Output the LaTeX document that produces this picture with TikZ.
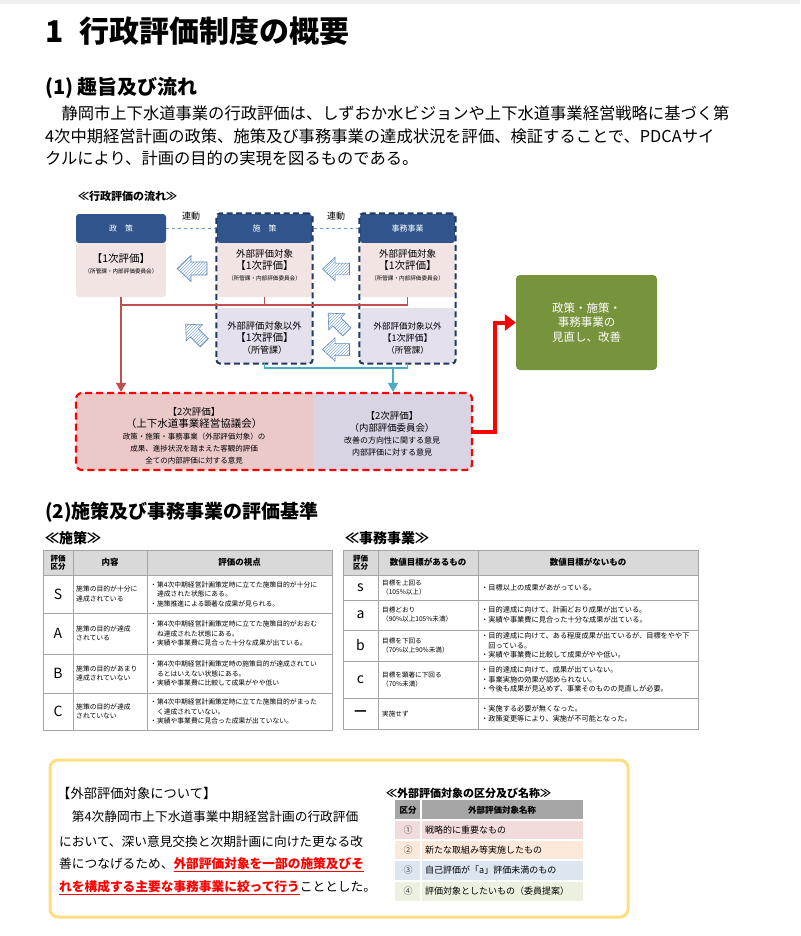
\documentclass[tikz,border=0pt]{standalone}
\usepackage{fontspec}
\setmainfont{Noto Sans CJK JP}
\usetikzlibrary{arrows.meta,patterns,fit,positioning}
\definecolor{hdnavy}{RGB}{47,85,140}
\definecolor{dashnavy}{RGB}{31,56,100}
\definecolor{bodypink}{RGB}{243,228,228}
\definecolor{bodylav}{RGB}{228,224,236}
\definecolor{linkblue}{RGB}{110,155,205}
\definecolor{evalred}{RGB}{192,80,77}
\definecolor{evalcyan}{RGB}{75,172,198}
\definecolor{nijipink}{RGB}{236,201,201}
\definecolor{nijilav}{RGB}{217,211,228}
\definecolor{kaizengreen}{RGB}{119,147,60}
\definecolor{hatchblue}{RGB}{140,175,222}
\definecolor{hatchedge}{RGB}{95,135,190}
\definecolor{thgray}{RGB}{217,217,217}
\definecolor{gridgray}{RGB}{165,165,165}
\definecolor{boxyellow}{RGB}{255,222,130}
\definecolor{kbgray}{RGB}{166,166,166}
\definecolor{kbpink}{RGB}{242,220,219}
\definecolor{kborange}{RGB}{253,233,217}
\definecolor{kbblue}{RGB}{220,230,241}
\definecolor{kbgreen}{RGB}{235,241,222}
\definecolor{topgray}{RGB}{238,238,238}
\newcommand{\jfs}[2]{\fontsize{#1}{#2}\selectfont}
\newcommand{\redul}[1]{{\color{red}\bfseries\underline{#1}}}

\begin{document}
\begin{tikzpicture}[x=1pt, y=-1pt,
  every node/.style={inner sep=0pt},
  hd/.style={fill=hdnavy, rounded corners=3pt, minimum height=29pt, text=white, font=\jfs{8}{10}},
  pinkbody/.style={fill=bodypink, rounded corners=3pt, minimum height=54pt},
  lavbody/.style={fill=bodylav, rounded corners=3pt, minimum height=55pt},
  boxtxt/.style={align=center, font=\jfs{9}{12}},
  colframe/.style={draw=dashnavy, line width=2pt, dash pattern=on 6pt off 3.5pt, rounded corners=4pt, inner sep=0.5pt},
  linkln/.style={linkblue, dashed, line width=0.7pt},
  redln/.style={evalred, line width=1.3pt},
  cyanln/.style={evalcyan, line width=1.3pt},
  bigred/.style={red, line width=4pt, -{Triangle[length=11pt,width=16pt]}},
  grade/.style={font=\jfs{14}{14}},
  cellhd/.style={align=center, font=\jfs{8.5}{10}\bfseries},
  celltx/.style={anchor=west, align=left, font=\jfs{6.8}{9.5}},
  jimutx/.style={anchor=west, align=left, font=\jfs{7.2}{9.5}},
  cellln/.style={gridgray, line width=0.6pt},
  hatcharrow/.pic={
    \fill[white] (-15,0) -- (-1,-13) -- (-1,-6.5) -- (15,-6.5) -- (15,6.5) -- (-1,6.5) -- (-1,13) -- cycle;
    \draw[hatchedge, line width=0.6pt, pattern=north east lines, pattern color=hatchblue]
      (-15,0) -- (-1,-13) -- (-1,-6.5) -- (15,-6.5) -- (15,6.5) -- (-1,6.5) -- (-1,13) -- cycle;
  }
]
\useasboundingbox (0,0) rectangle (800,936);
\fill[white] (0,0) rectangle (800,936);
\fill[topgray] (0,0) rectangle (800,4);

% Heading and lead text
\node[anchor=west, font=\jfs{30}{32}\bfseries] (title) at (45,31) {1\hspace{16pt}行政評価制度の概要};
\node[anchor=west, font=\jfs{20}{22}\bfseries] (sec1) at (45,88) {(1) 趣旨及び流れ};
\node[anchor=west, font=\jfs{16.3}{18}] (lead1) at (45,113) {　静岡市上下水道事業の行政評価は、しずおか水ビジョンや上下水道事業経営戦略に基づく第};
\node[anchor=west, font=\jfs{16.3}{18}] (lead2) at (45,136) {4次中期経営計画の政策、施策及び事務事業の達成状況を評価、検証することで、PDCAサイ};
\node[anchor=west, font=\jfs{16.3}{18}] (lead3) at (45,158) {クルにより、計画の目的の実現を図るものである。};

% Flow of the evaluation
\node[anchor=west, font=\jfs{11}{12}\bfseries] (flowtitle) at (78,196) {≪行政評価の流れ≫};

% column boxes
\node[hd, minimum width=90pt] (seisaku-hd) at (121,228.5) {政\hspace{8pt}策};
\node[pinkbody, minimum width=90pt] (seisaku) at (121,270) {};
\node[boxtxt] (seisaku-t) at (121,264) {\jfs{10.5}{12}【1次評価】\\[-1pt]\jfs{5.6}{8}（所管課・内部評価委員会）};

\node[hd, minimum width=95pt] (shisaku-hd) at (264.5,228.5) {施\hspace{8pt}策};
\node[pinkbody, minimum width=95pt] (shisaku-in) at (264.5,270) {};
\node[boxtxt] (shisaku-in-t) at (264.5,265) {\jfs{9.5}{12}外部評価対象\\\jfs{10.5}{13}【1次評価】\\[-1pt]\jfs{5.6}{8}（所管課・内部評価委員会）};
\node[lavbody, minimum width=95pt] (shisaku-out) at (264.5,335.5) {};
\node[boxtxt] (shisaku-out-t) at (264.5,338) {\jfs{9.3}{12}外部評価対象以外\\\jfs{10.5}{13}【1次評価】\\\jfs{9}{12}（所管課）};

\node[hd, minimum width=95pt] (jimu-hd) at (407.5,228.5) {事務事業};
\node[pinkbody, minimum width=95pt] (jimu-in) at (407.5,270) {};
\node[boxtxt] (jimu-in-t) at (407.5,265) {\jfs{9.5}{12}外部評価対象\\\jfs{10.5}{13}【1次評価】\\[-1pt]\jfs{5.6}{8}（所管課・内部評価委員会）};
\node[lavbody, minimum width=95pt] (jimu-out) at (407.5,335.5) {};
\node[boxtxt] (jimu-out-t) at (407.5,338) {\jfs{8.5}{12}外部評価対象以外\\\jfs{9}{11}【1次評価】\\\jfs{8.5}{11}（所管課）};

\node[colframe, fit=(shisaku-hd)(shisaku-out)] (shisaku-frame) {};
\node[colframe, fit=(jimu-hd)(jimu-out)] (jimu-frame) {};

% linked columns
\draw[linkln] (seisaku-hd.east) -- (shisaku-frame.west |- seisaku-hd.east);
\draw[linkln] (shisaku-frame.east |- jimu-hd.west) -- (jimu-frame.west |- jimu-hd.west);
\node[font=\jfs{9}{10}] (rendo1) at (191,216) {連動};
\node[font=\jfs{9}{10}] (rendo2) at (336,216) {連動};

% hatched arrows
\pic at (192,268.5) {hatcharrow};
\pic[scale=0.9] at (336,269) {hatcharrow};
\pic[scale=0.88, rotate=-45] at (195,333.5) {hatcharrow};
\pic[scale=0.88, rotate=-45] at (337.5,322.5) {hatcharrow};
\pic[scale=0.9] at (336,349.5) {hatcharrow};

% secondary evaluation
\begin{scope}
  \fill[nijilav, rounded corners=6pt] (76,393) rectangle (472,470);
  \clip (60,380) rectangle (313,480);
  \fill[nijipink, rounded corners=6pt] (76,393) rectangle (472,470);
\end{scope}
\node[draw=red, line width=2.2pt, dash pattern=on 7pt off 4pt, rounded corners=6pt,
  minimum width=396pt, minimum height=77pt] (niji) at (274,431.5) {};
\node[boxtxt] (niji-lt) at (194,435.5) {\jfs{9.5}{11}【2次評価】\\\jfs{10.5}{12}（上下水道事業経営協議会）\\\jfs{7.5}{11}政策・施策・事務事業（外部評価対象）の\\\jfs{7.5}{11}成果、進捗状況を踏まえた客観的評価\\\jfs{7.5}{11}全ての内部評価に対する意見};
\node[boxtxt] (niji-rt) at (392,434) {\jfs{9.5}{12}【2次評価】\\\jfs{9.4}{12}（内部評価委員会）\\\jfs{8}{12}改善の方向性に関する意見\\\jfs{8}{12}内部評価に対する意見};

% connectors
\coordinate (redbar) at (0,305);
\coordinate (cyanbar) at (0,368);
\coordinate (cyandrop) at (393,368);
\draw[redln] (seisaku.south |- redbar) -- (jimu-in.south |- redbar);
\draw[redln] (shisaku-in.south) -- (shisaku-in.south |- redbar);
\draw[redln] (jimu-in.south) -- (jimu-in.south |- redbar);
\draw[redln, -{Triangle[length=9pt,width=10pt]}] (seisaku.south) -- (seisaku.south |- niji.north);
\draw[cyanln] (shisaku-out.south) -- (shisaku-out.south |- cyanbar) -- (jimu-out.south |- cyanbar) -- (jimu-out.south);
\draw[cyanln, -{Triangle[length=9pt,width=10pt]}] (cyandrop) -- (cyandrop |- niji.north);

% review box
\node[fill=kaizengreen, rounded corners=4pt, minimum width=141pt, minimum height=95pt,
  text=white, align=center, font=\jfs{11.5}{14.5}] (kaizen) at (586.5,322.5) {政策・施策・\\事務事業の\\見直し、改善};
\draw[bigred] (niji.east) -- ++(22,0) |- (kaizen.west);

% Criteria
\node[anchor=west, font=\jfs{19}{21}\bfseries] (sec2) at (45,512) {(2)施策及び事務事業の評価基準};
\node[anchor=west, font=\jfs{14}{15}\bfseries] (shisaku-title) at (45,538) {≪施策≫};
\node[anchor=west, font=\jfs{14}{15}\bfseries] (jimu-title) at (345,538) {≪事務事業≫};

% table of measures
\fill[thgray] (43,550) rectangle (332,575);
\node[cellhd, font=\jfs{7.5}{8.5}\bfseries] (shd1) at (58,562.5) {評価\\区分};
\node[cellhd] (shd2) at (110,562.5) {内容};
\node[cellhd] (shd3) at (239.5,562.5) {評価の視点};
\foreach \ya/\yb/\grade/\naiyo/\shiten [count=\i] in {
  575/613/S/{施策の目的が十分に\\達成されている}/{・第4次中期経営計画策定時に立てた施策目的が十分に\\\hspace*{1em}達成された状態にある。\\・施策推進による顕著な成果が見られる。},
  613/654/A/{施策の目的が達成\\されている}/{・第4次中期経営計画策定時に立てた施策目的がおおむ\\\hspace*{1em}ね達成された状態にある。\\・実績や事業費に見合った十分な成果が出ている。},
  654/693/B/{施策の目的があまり\\達成されていない}/{・第4次中期経営計画策定時の施策目的が達成されてい\\\hspace*{1em}るとはいえない状態にある。\\・実績や事業費に比較して成果がやや低い},
  693/730/C/{施策の目的が達成\\されていない}/{・第4次中期経営計画策定時に立てた施策目的がまった\\\hspace*{1em}く達成されていない。\\・実績や事業費に見合った成果が出ていない。}}
{
  \node[grade] (sg\i) at (58,{(\ya+\yb)/2}) {\grade};
  \node[celltx] (sn\i) at (76,{(\ya+\yb)/2}) {\naiyo};
  \node[celltx] (ss\i) at (150,{(\ya+\yb)/2}) {\shiten};
  \draw[cellln] (43,\ya) -- (332,\ya);
}
\draw[cellln] (73,550) -- (73,730);
\draw[cellln] (147,550) -- (147,730);
\draw[cellln, line width=0.9pt] (43,550) rectangle (332,730);

% table of operations
\fill[thgray] (343,550) rectangle (698,575);
\node[cellhd, font=\jfs{7.5}{8.5}\bfseries] (jhd1) at (360.5,562.5) {評価\\区分};
\node[cellhd] (jhd2) at (428,562.5) {数値目標があるもの};
\node[cellhd] (jhd3) at (588,562.5) {数値目標がないもの};
\foreach \ya/\yb/\grade/\aru/\nai [count=\i] in {
  575/600/s/{目標を上回る\\（105\%以上）}/{・目標以上の成果があがっている。},
  600/630/a/{目標どおり\\（90\%以上105\%未満）}/{・目的達成に向けて、計画どおり成果が出ている。\\・実績や事業費に見合った十分な成果が出ている。},
  630/661/b/{目標を下回る\\（70\%以上90\%未満）}/{・目的達成に向けて、ある程度成果が出ているが、目標をやや下\\\hspace*{1em}回っている。\\・実績や事業費に比較して成果がやや低い。},
  661/698/c/{目標を顕著に下回る\\（70\%未満）}/{・目的達成に向けて、成果が出ていない。\\・事業実施の効果が認められない。\\・今後も成果が見込めず、事業そのものの見直しが必要。},
  698/729/{\bfseries —}/{実施せず}/{・実施する必要が無くなった。\\・政策変更等により、実施が不可能となった。}}
{
  \node[grade] (jg\i) at (360.5,{(\ya+\yb)/2}) {\grade};
  \node[jimutx, font=\jfs{6.6}{9}] (ja\i) at (382,{(\ya+\yb)/2}) {\aru};
  \node[jimutx] (jn\i) at (481,{(\ya+\yb)/2}) {\nai};
  \draw[cellln] (343,\ya) -- (698,\ya);
}
\draw[cellln] (378,550) -- (378,729);
\draw[cellln] (478,550) -- (478,729);
\draw[cellln, line width=0.9pt] (343,550) rectangle (698,729);

% External evaluation box
\node[draw=boxyellow, line width=3pt, rounded corners=8pt, minimum width=578pt, minimum height=157pt] (gaibu-box) at (339,838.5) {};
\node[anchor=west, font=\jfs{13.3}{15}] (gaibu-hd) at (57,793) {【外部評価対象について】};
\node[anchor=west, font=\jfs{12.7}{15}] (gaibu1) at (59,817) {　第4次静岡市上下水道事業中期経営計画の行政評価};
\node[anchor=west, font=\jfs{12.7}{15}] (gaibu2) at (59,842) {において、深い意見交換と次期計画に向けた更なる改};
\node[anchor=west, font=\jfs{12.7}{15}] (gaibu3) at (59,865) {善につなげるため、\redul{外部評価対象を一部の施策及びそ}};
\node[anchor=west, font=\jfs{12.7}{15}] (gaibu4) at (59,888) {\redul{れを構成する主要な事務事業に絞って行う}こととした。};

% categories of external evaluation
\node[anchor=west, font=\jfs{11}{12}\bfseries] (kubun-title) at (386,793) {≪外部評価対象の区分及び名称≫};
\fill[kbgray] (395,800) rectangle (583,820);
\node[font=\jfs{8.5}{10}\bfseries] (kbhd1) at (408,810) {区分};
\node[font=\jfs{8.5}{10}\bfseries] (kbhd2) at (502,810) {外部評価対象名称};
\foreach \ya/\yb/\col/\num/\name [count=\i] in {
  820/840/kbpink/①/戦略的に重要なもの,
  840/860/kborange/②/新たな取組み等実施したもの,
  860/881/kbblue/③/自己評価が「a」評価未満のもの,
  881/901/kbgreen/④/評価対象としたいもの（委員提案）}
{
  \fill[\col] (395,\ya) rectangle (583,\yb);
  \node[font=\jfs{9}{10}, text=black!70] (kbn\i) at (408,{(\ya+\yb)/2}) {\num};
  \node[anchor=west, font=\jfs{9}{10}] (kbt\i) at (425,{(\ya+\yb)/2}) {\name};
  \draw[white, line width=1.5pt] (395,\ya) -- (583,\ya);
}
\draw[white, line width=1.5pt] (421,800) -- (421,901);
\end{tikzpicture}
\end{document}
